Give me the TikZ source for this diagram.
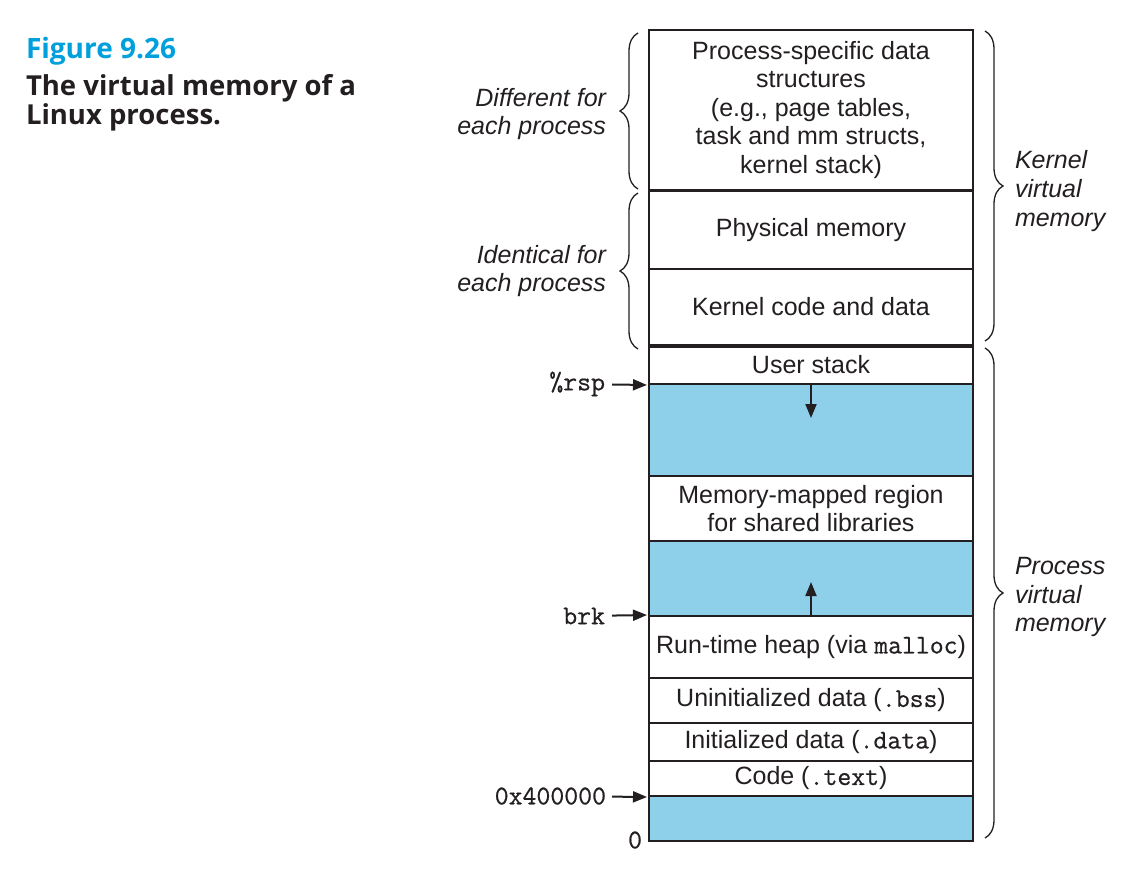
\documentclass[tikz,border=0pt]{standalone}
\usepackage{fontspec}
\setmainfont{Liberation Sans}
\setmonofont{Latin Modern Mono}[FakeBold=0.6]
\newfontfamily\titlefont{Open Sans}
\usepackage{xcolor}
\usetikzlibrary{arrows.meta}
\usetikzlibrary{decorations.pathreplacing}
\definecolor{regionblue}{RGB}{142,208,233}
\definecolor{figcyan}{RGB}{0,160,220}
\definecolor{inkgray}{RGB}{35,31,32}

\begin{document}
\begin{tikzpicture}[x=1pt, y=-1pt, line width=2pt, color=inkgray]
    \tikzstyle{region} = [rectangle, draw=inkgray, fill=white, minimum width=324pt, inner sep=0pt, text centered, align=center, font=\fontsize{25}{28.5}\selectfont]
    \tikzstyle{gap} = [region, fill=regionblue]
    \tikzstyle{side} = [inner sep=0pt, font=\fontsize{25}{28.8}\selectfont\itshape]
    \tikzstyle{addr} = [inner sep=0pt, font=\fontsize{27}{30}\selectfont\ttfamily]
    \tikzstyle{pointer} = [-{Triangle[length=14pt,width=11pt]}, line width=2pt]
    \tikzstyle{bracket} = [decorate, decoration={brace, amplitude=18pt, aspect=0.5}, line width=1.3pt]
    \tikzstyle{caption} = [anchor=base west, inner sep=0pt, font=\titlefont\bfseries\fontsize{27.5}{32}\selectfont]
    \newcommand{\cmd}[1]{{\fontsize{27}{28.5}\selectfont\ttfamily #1}}

    \useasboundingbox (0,0) rectangle (1136,876);

    % Title
    \node [caption, text=figcyan, font=\titlefont\bfseries\fontsize{28}{32}\selectfont] (fig) at (25,58) {Figure 9.26};
    \node [caption] (capline1) at (25,95) {The virtual memory of a};
    \node [caption] (capline2) at (25,124) {Linux process.};

    % Kernel virtual memory
    \node [region, minimum height=160pt] (procdata) at (811,110) {Process-specific data\\structures\\(e.g., page tables,\\task and mm structs,\\kernel stack)};
    \node [region, minimum height=78pt] (physmem) at (811,230) {Physical memory};
    \node [region, minimum height=76pt] (kcode) at (811,307) {Kernel code and data};

    % Process virtual memory
    \node [region, minimum height=39pt] (ustack) at (811,364.5) {User stack};
    \node [gap, minimum height=92pt] (stackgap) at (811,430) {};
    \node [region, minimum height=65pt] (mmap) at (811,508.5) {Memory-mapped region\\for shared libraries};
    \node [gap, minimum height=75pt] (heapgap) at (811,578.5) {};
    \node [region, minimum height=62pt] (heap) at (811,647) {Run-time heap (via \cmd{malloc})};
    \node [region, minimum height=45pt] (bss) at (811,700.5) {Uninitialized data (\cmd{.bss})};
    \node [region, minimum height=38pt] (idata) at (811,742) {Initialized data (\cmd{.data})};
    \node [region, minimum height=35pt] (code) at (811,778.5) {Code (\cmd{.text})};
    \node [gap, minimum height=45pt] (lowgap) at (811,818.5) {};

    % Kernel / user boundary
    \draw [line width=4.5pt] (kcode.south west) -- (kcode.south east);

    % Growth arrows
    \coordinate (stackgrow) at (811,418);
    \coordinate (heapgrow) at (811,582);
    \draw [pointer] (ustack.south) -- (stackgrow);
    \draw [pointer] (heap.north) -- (heapgrow);

    % Addresses
    \node [addr, anchor=east] (rsp) at (606,384) {\%rsp};
    \node [addr, anchor=east] (brk) at (606,616) {brk};
    \node [addr, anchor=east] (textstart) at (607,796) {0x400000};
    \node [addr, anchor=east] (zero) at (643,840) {0};
    \draw [pointer, shorten <=6pt, shorten >=1pt] (rsp) -- (ustack.south west);
    \draw [pointer, shorten <=6pt, shorten >=1pt] (brk) -- (heap.north west);
    \draw [pointer, shorten <=5pt, shorten >=1pt] (textstart) -- (code.south west);

    % Braces
    \draw [bracket] (638,189) -- (638,33);
    \draw [bracket] (638,349) -- (638,193);
    \draw [bracket] (985,31) -- (985,341);
    \draw [bracket] (985,348) -- (985,838);
    \node [side, anchor=east, align=right] (diff) at (607,114) {Different for\\each process};
    \node [side, anchor=east, align=right] (ident) at (607,271) {Identical for\\each process};
    \node [side, anchor=west, align=left] (kvm) at (1014,191) {Kernel\\virtual\\memory};
    \node [side, anchor=west, align=left] (pvm) at (1014,597) {Process\\virtual\\memory};
\end{tikzpicture}
\end{document}
